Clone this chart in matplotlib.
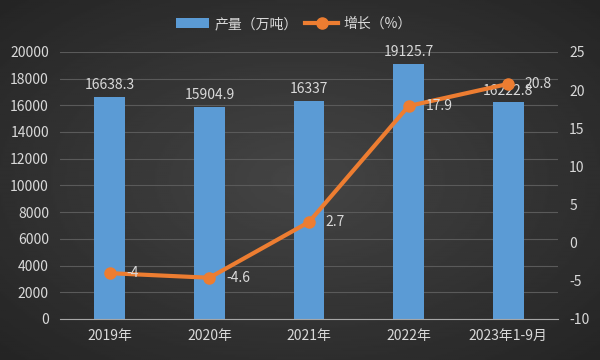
import numpy as np
import matplotlib
matplotlib.use('Agg')
import matplotlib.pyplot as plt

plt.rcParams['font.family'] = ['Noto Sans CJK SC', 'DejaVu Sans']
plt.rcParams['axes.unicode_minus'] = False

# data
categories = ['2019年', '2020年', '2021年', '2022年', '2023年1-9月']
output = [16638.3, 15904.9, 16337, 19125.7, 16222.8]
growth = [-4, -4.6, 2.7, 17.9, 20.8]
output_labels = ['16638.3', '15904.9', '16337', '19125.7', '16222.8']
growth_labels = ['-4', '-4.6', '2.7', '17.9', '20.8']

txt = '#d9d9d9'
bar_c = '#5b9bd5'
line_c = '#ed7d31'

fig = plt.figure(figsize=(6, 3.6), dpi=100)

# dark radial background
bg = fig.add_axes([0, 0, 1, 1])
yy, xx = np.mgrid[-1:1:200j, -1:1:300j]
r = np.sqrt(xx**2 + yy**2)
bg.imshow(0.27 - 0.09 * r, cmap='gray', vmin=0, vmax=1, aspect='auto',
          extent=[0, 1, 0, 1])
bg.axis('off')

ax = fig.add_axes([0.1, 0.114, 0.83, 0.742])
ax.patch.set_alpha(0)
x = np.arange(len(categories))
bars = ax.bar(x, output, width=0.31, color=bar_c, zorder=2)
ax.set_ylim(0, 20000)
ax.set_yticks(range(0, 20001, 2000))
ax.set_xlim(-0.5, len(categories) - 0.5)
ax.set_xticks(x)
ax.set_xticklabels(categories)
ax.grid(axis='y', color='#5a5a5a', lw=0.8, zorder=0)
for s in ['top', 'right', 'left']:
    ax.spines[s].set_visible(False)
ax.spines['bottom'].set_color('#a6a6a6')
ax.tick_params(colors=txt, labelsize=10, length=0)
ax.tick_params(axis='x', pad=7)
ax.tick_params(axis='y', pad=8)
for xi, v, lab in zip(x, output, output_labels):
    ax.text(xi, v + 350, lab, ha='center', va='bottom', color=txt, fontsize=10)

ax2 = ax.twinx()
ax2.set_ylim(-10, 25)
ax2.set_yticks(range(-10, 26, 5))
ln, = ax2.plot(x, growth, color=line_c, lw=3, marker='o', ms=8, zorder=3)
for s in ax2.spines.values():
    s.set_visible(False)
ax2.tick_params(colors=txt, labelsize=10, length=0, pad=8)
for xi, v, lab in zip(x, growth, growth_labels):
    ax2.annotate(lab, (xi, v), xytext=(12, 0), textcoords='offset points',
                 ha='left', va='center', color=txt, fontsize=10)

leg = fig.legend([bars, ln], ['产量（万吨）', '增长（%）'], loc='center',
                 bbox_to_anchor=(0.49, 0.933), ncol=2, frameon=False,
                 fontsize=10, handlelength=2.4, columnspacing=0.5,
                 handletextpad=0.4)
for t in leg.get_texts():
    t.set_color(txt)

fig.savefig('out.png', dpi=100)
